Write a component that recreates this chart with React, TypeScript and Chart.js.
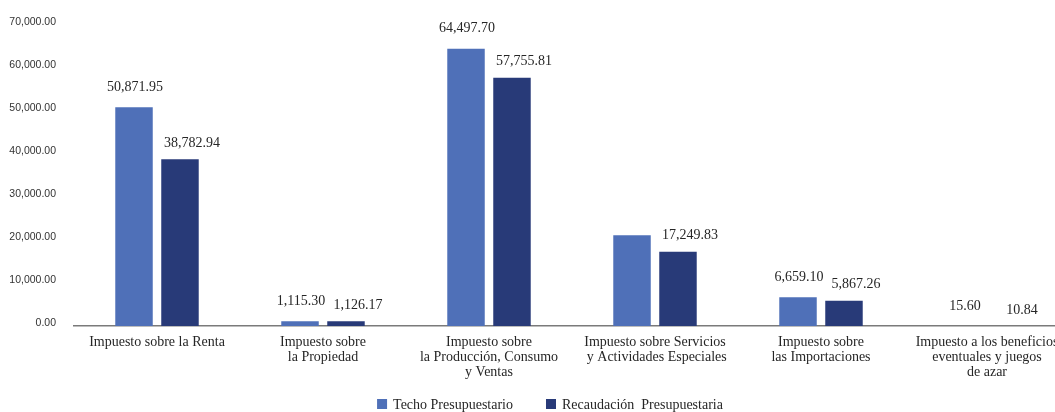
import React, { useEffect, useRef } from 'react';
import { Chart, registerables } from 'chart.js';

Chart.register(...registerables);

const categories: (string | string[])[] = [
  'Impuesto sobre la Renta',
  ['Impuesto sobre', 'la Propiedad'],
  ['Impuesto sobre', 'la Producción, Consumo', 'y Ventas'],
  ['Impuesto sobre Servicios', ' y Actividades Especiales'],
  ['Impuesto sobre', 'las Importaciones'],
  ['Impuesto a los beneficios', 'eventuales y juegos', 'de azar'],
];
const techoValues = [50871.95, 1115.3, 64497.7, 21100, 6659.1, 15.6];
const techoShowLabel = [true, true, true, false, true, true];
const recaudacionValues = [38782.94, 1126.17, 57755.81, 17249.83, 5867.26, 10.84];
const recaudacionShowLabel = [true, true, true, true, true, true];
const seriesNames = ['Techo Presupuestario', 'Recaudación  Presupuestaria'];
const seriesColors = ['#4F70B8', '#283A78'];
const yMax = 70000;
const yStep = 10000;

const fmt = (v: number) =>
  v.toLocaleString('en-US', { minimumFractionDigits: 2, maximumFractionDigits: 2 });

const SERIF = '"Liberation Serif", "Times New Roman", serif';

const valueLabels = {
  id: 'valueLabels',
  afterDatasetsDraw(chart: any) {
    const ctx = chart.ctx;
    ctx.save();
    ctx.font = `14px ${SERIF}`;
    ctx.fillStyle = '#262626';
    ctx.textAlign = 'center';
    ctx.textBaseline = 'middle';
    const shows = [techoShowLabel, recaudacionShowLabel];
    chart.data.datasets.forEach((ds: any, di: number) => {
      const meta = chart.getDatasetMeta(di);
      meta.data.forEach((el: any, i: number) => {
        if (!shows[di][i]) return;
        const dx = di === 0 ? 1 : 12;
        const dy = di === 0 ? 20 : 16;
        ctx.fillText(fmt(ds.data[i]), el.x + dx, el.y - dy);
      });
    });
    ctx.restore();
  },
};

const bottomLegend = {
  id: 'bottomLegend',
  afterDraw(chart: any) {
    const ctx = chart.ctx;
    ctx.save();
    ctx.font = `14px ${SERIF}`;
    ctx.textBaseline = 'middle';
    ctx.textAlign = 'left';
    const box = 10;
    const gapText = 6;
    const gapItem = 33;
    const widths = seriesNames.map((n) => box + gapText + ctx.measureText(n).width);
    const total = widths.reduce((a, b) => a + b, 0) + gapItem * (widths.length - 1);
    let x = 550 - total / 2;
    const cy = 405;
    seriesNames.forEach((n, i) => {
      ctx.fillStyle = seriesColors[i];
      ctx.fillRect(x, cy - 6, box, box);
      ctx.fillStyle = '#262626';
      ctx.fillText(n, x + box + gapText, cy);
      x += widths[i] + gapItem;
    });
    ctx.restore();
  },
};

export default function App() {
  const ref = useRef<HTMLCanvasElement | null>(null);
  useEffect(() => {
    if (!ref.current) return;
    const chart = new Chart(ref.current, {
      type: 'bar',
      data: {
        labels: categories,
        datasets: [
          {
            label: seriesNames[0],
            data: techoValues,
            backgroundColor: seriesColors[0],
            categoryPercentage: 0.554,
            barPercentage: 0.815,
          },
          {
            label: seriesNames[1],
            data: recaudacionValues,
            backgroundColor: seriesColors[1],
            categoryPercentage: 0.554,
            barPercentage: 0.815,
          },
        ],
      },
      options: {
        responsive: false,
        animation: false,
        layout: { padding: { left: 0, top: 25, right: 30, bottom: 20 } },
        plugins: {
          legend: { display: false },
          tooltip: { enabled: false },
        },
        scales: {
          x: {
            grid: { display: false, drawTicks: false },
            border: { display: true, color: '#7a7a7a', width: 1.5 },
            ticks: {
              autoSkip: false,
              maxRotation: 0,
              minRotation: 0,
              padding: 9,
              color: '#262626',
              font: { family: SERIF, size: 14, lineHeight: 1.07 },
            },
            afterFit: (s: any) => {
              s.height = 66;
            },
          },
          y: {
            min: 0,
            max: yMax,
            grid: { display: false, drawTicks: false },
            border: { display: false },
            ticks: {
              stepSize: yStep,
              padding: 18,
              labelOffset: -3,
              color: '#333333',
              font: { family: '"Liberation Sans", Arial, sans-serif', size: 10.5 },
              callback: (v: any) => fmt(Number(v)),
            },
            afterFit: (s: any) => {
              s.width = 74;
            },
          },
        },
      },
      plugins: [valueLabels, bottomLegend],
    });
    return () => chart.destroy();
  }, []);
  return (
    <div style={{ position: 'absolute', left: 0, top: 0, width: 1055, height: 412, overflow: 'hidden', background: '#fff' }}>
      <canvas ref={ref} width={1100} height={412} style={{ display: 'block' }} />
    </div>
  );
}
